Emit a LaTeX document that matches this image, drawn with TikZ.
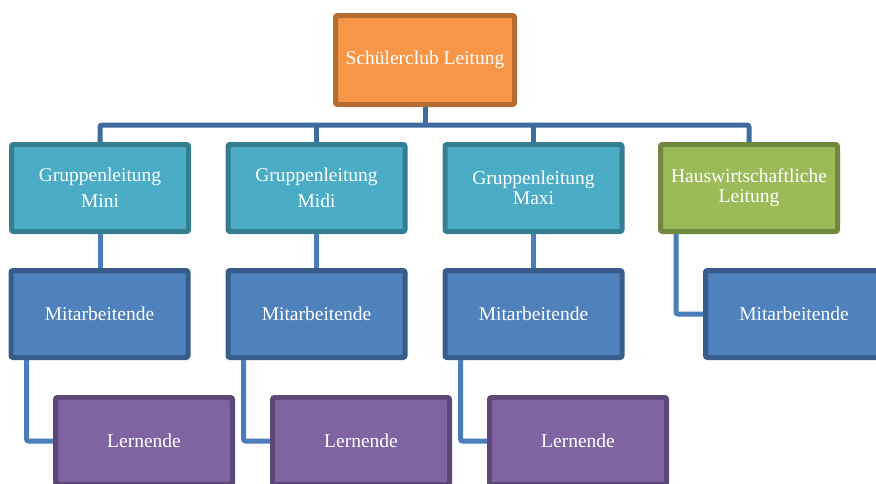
\documentclass[tikz,border=0pt]{standalone}
\usepackage{fontspec}
\setmainfont{Liberation Serif}
\usetikzlibrary{positioning}

\definecolor{leitungfill}{HTML}{F79646}
\definecolor{leitungdraw}{HTML}{B66D31}
\definecolor{gruppefill}{HTML}{4BACC6}
\definecolor{gruppedraw}{HTML}{357D91}
\definecolor{hausfill}{HTML}{9BBB59}
\definecolor{hausdraw}{HTML}{71893F}
\definecolor{mitfill}{HTML}{4F81BD}
\definecolor{mitdraw}{HTML}{385D8A}
\definecolor{lernfill}{HTML}{8064A2}
\definecolor{lerndraw}{HTML}{5C4776}
\definecolor{busline}{HTML}{3F6C9F}
\definecolor{stemline}{HTML}{4A7EBB}

\tikzstyle{orgbox} = [rectangle, rounded corners=2pt, line width=5pt, text=white, align=center, minimum width=177pt, minimum height=87pt, font=\fontsize{19.5}{26}\selectfont]
\tikzstyle{eng} = [font=\fontsize{19.5}{20}\selectfont]
\tikzstyle{leitung} = [orgbox, draw=leitungdraw, fill=leitungfill, minimum width=179pt, minimum height=89pt]
\tikzstyle{gruppe} = [orgbox, draw=gruppedraw, fill=gruppefill]
\tikzstyle{haus} = [orgbox, draw=hausdraw, fill=hausfill]
\tikzstyle{mitarb} = [orgbox, draw=mitdraw, fill=mitfill]
\tikzstyle{lern} = [orgbox, draw=lerndraw, fill=lernfill]
\tikzstyle{bus} = [draw=busline, line width=5pt, rounded corners=2pt]
\tikzstyle{stem} = [draw=stemline, line width=5pt, rounded corners=2pt]

\begin{document}
\begin{tikzpicture}[x=1pt, y=-1pt]
	\useasboundingbox (0,0) rectangle (876,483);
	\clip (0,0) rectangle (876,483);

	% Leitung
	\node [leitung] (leitung) at (425,60) {Schülerclub Leitung};

	% Gruppenleitungen
	\node [gruppe] (gmini) at (100,188) {Gruppenleitung\\Mini};
	\node [gruppe] (gmidi) at (316.5,188) {Gruppenleitung\\Midi};
	\node [gruppe, eng] (gmaxi) at (533.5,188) {Gruppenleitung\\Maxi};
	\node [haus, eng] (hausw) at (749,188) {Hauswirtschaftliche\\Leitung};

	% Mitarbeitende
	\node [mitarb] (mmini) at (99.5,314) {Mitarbeitende};
	\node [mitarb] (mmidi) at (316.5,314) {Mitarbeitende};
	\node [mitarb] (mmaxi) at (533.5,314) {Mitarbeitende};
	\node [mitarb] (mhaus) at (794,314) {Mitarbeitende};

	% Lernende
	\node [lern] (lmini) at (144,441) {Lernende};
	\node [lern] (lmidi) at (361,441) {Lernende};
	\node [lern] (lmaxi) at (578,441) {Lernende};

	% Verbindungen
	\coordinate (knoten) at (425,125);
	\draw [bus] (leitung.south) -- (knoten);
	\draw [bus] (gmini.north) |- (knoten) -| (hausw.north);
	\draw [bus] (gmidi.north) -- (gmidi.north |- knoten);
	\draw [bus] (gmaxi.north) -- (gmaxi.north |- knoten);

	\draw [stem] (gmini.south) -- (gmini.south |- mmini.north);
	\draw [stem] (gmidi.south) -- (gmidi.south |- mmidi.north);
	\draw [stem] (gmaxi.south) -- (gmaxi.south |- mmaxi.north);
	\draw [stem] ([xshift=18pt]hausw.south west) |- (mhaus.west);

	\draw [stem] ([xshift=18pt]mmini.south west) |- (lmini.west);
	\draw [stem] ([xshift=18pt]mmidi.south west) |- (lmidi.west);
	\draw [stem] ([xshift=18pt]mmaxi.south west) |- (lmaxi.west);
\end{tikzpicture}
\end{document}
